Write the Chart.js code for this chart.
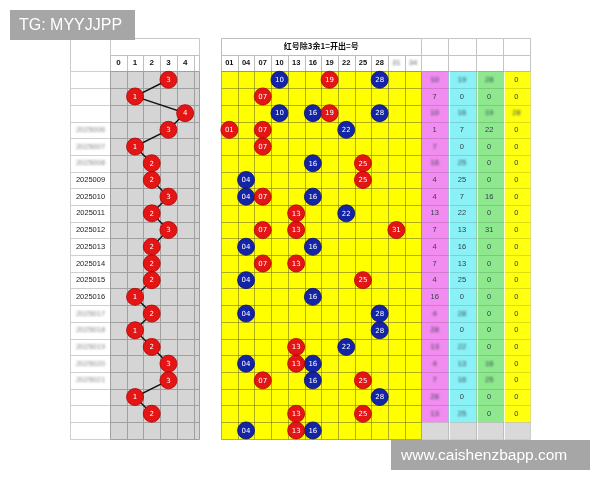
<!DOCTYPE html>
<html>
<head>
<meta charset="utf-8">
<script src="https://cdn.jsdelivr.net/npm/chart.js@4.4.1/dist/chart.umd.min.js"></script>
<style>
  html, body { margin: 0; background: #fff; }
  #wrap { width: 600px; height: 480px; }
</style>
</head>
<body>
<div id="wrap"><canvas id="chart" width="600" height="480"></canvas></div>
<script>
// ---------- data ----------
const rowLabels = ["", "", "", "2025006", "2025007", "2025008", "2025009", "2025010", "2025011",
  "2025012", "2025013", "2025014", "2025015", "2025016", "2025017", "2025018", "2025019",
  "2025020", "2025021", "", "", ""];
const zoneHeads = ["0", "1", "2", "3", "4"];
const zoneValues = [3, 1, 4, 3, 1, 2, 2, 3, 2, 3, 2, 2, 2, 1, 2, 1, 2, 3, 3, 1, 2, null];

const numTitle = "红号除3余1=开出=号";
const numHeads = ["01", "04", "07", "10", "13", "16", "19", "22", "25", "28", "31", "34"];
const redDraws = [[19], [7], [19], [1, 7], [7], [25], [25], [7], [13], [7, 13, 31], [], [7, 13],
  [25], [], [], [], [13], [13], [7, 25], [], [13, 25], [13]];
const blueDraws = [[10, 28], [], [10, 16, 28], [22], [], [16], [4], [4, 16], [22], [], [4, 16], [],
  [4], [16], [4, 28], [28], [22], [4, 16], [16], [28], [], [4, 16]];

const firstNum  = [10, 7, 10, 1, 7, 16, 4, 4, 13, 7, 4, 7, 4, 16, 4, 28, 13, 4, 7, 28, 13, null];
const secondNum = [19, 0, 16, 7, 0, 25, 25, 7, 22, 13, 16, 13, 25, 0, 28, 0, 22, 13, 16, 0, 25, null];
const thirdNum  = [28, 0, 19, 22, 0, 0, 0, 16, 0, 31, 0, 0, 0, 0, 0, 0, 0, 16, 25, 0, 0, null];
const fourthNum = [0, 0, 28, 0, 0, 0, 0, 0, 0, 0, 0, 0, 0, 0, 0, 0, 0, 0, 0, 0, 0, null];

// ---------- layout ----------
const W = 600, H = 480;
const ROWS = rowLabels.length;
const CELL = 16.7;            // row height / grid cell width
const TOP = 38;               // top of the title row
const LABEL_W = 40;
const L_LEFT = 110, M_LEFT = 221, R_LEFT = 421, R_CELL = 27.25;
const fadedLabelRows = [4, 5, 6, 15, 16, 17, 18, 19];
const fuzzyRows = [1, 3, 5, 6, 15, 16, 17, 18, 19, 20, 21];
const rightCols = [
  { values: firstNum, fill: "#f28cf0" },
  { values: secondNum, fill: "#8af2f6" },
  { values: thirdNum, fill: "#8ee98e" },
  { values: fourthNum, fill: "#ffff10" },
];

const xRange = (left, cell) => {
  const min = -0.5 - left / cell;
  return { min, max: min + W / cell };
};
const yMin = -1.5 - TOP / CELL;

const numCol = (n) => (n - 1) / 3;

const RED = "#e31515", BLUE = "#1424a6";

// ---------- helpers ----------
function grid(ctx, xs, ys, fill, stroke) {
  const x0 = xs[0], x1 = xs[xs.length - 1], y0 = ys[0], y1 = ys[ys.length - 1];
  if (fill) {
    ctx.fillStyle = fill;
    ctx.fillRect(x0, y0, x1 - x0, y1 - y0);
  }
  ctx.strokeStyle = stroke;
  ctx.beginPath();
  xs.forEach((x) => { ctx.moveTo(x, y0); ctx.lineTo(x, y1); });
  ys.forEach((y) => { ctx.moveTo(x0, y); ctx.lineTo(x1, y); });
  ctx.stroke();
}

function text(ctx, s, x, y, font, color, fuzzy) {
  ctx.font = font;
  ctx.fillStyle = color;
  ctx.textAlign = "center";
  ctx.textBaseline = "middle";
  if (fuzzy) ctx.filter = "blur(1.1px)";
  ctx.fillText(s, x, y);
  ctx.filter = "none";
}

const tablePlugin = {
  id: "table",
  beforeDatasetsDraw(chart) {
    const { ctx } = chart;
    const { xL, xM, xR, y } = chart.scales;
    const px = (s, v) => Math.round(s.getPixelForValue(v)) + 0.5;
    const yTitle = px(y, -1.5), yHead = px(y, -0.5), yBody = px(y, 0.5), yEnd = px(y, ROWS + 0.5);
    const rowEdges = [];
    for (let r = 0; r <= ROWS; r++) rowEdges.push(px(y, r + 0.5));
    ctx.save();
    ctx.lineWidth = 1;

    // left: period labels
    const lx1 = px(xL, -0.5), lx0 = lx1 - LABEL_W;
    grid(ctx, [lx0, lx1], [yTitle, yBody], "#fff", "#c8c8c8");
    grid(ctx, [lx0, lx1], rowEdges, "#fff", "#cfcfcf");
    rowLabels.forEach((s, i) => {
      if (!s) return;
      const faded = fadedLabelRows.includes(i + 1);
      text(ctx, s, (lx0 + lx1) / 2, y.getPixelForValue(i + 1), "7.5px 'Liberation Sans'",
        faded ? "#888" : "#222", faded);
    });

    // left: zone grid
    const lxs = zoneHeads.map((_, c) => px(xL, c - 0.5));
    lxs.push(px(xL, zoneHeads.length - 0.5));
    const lxsWide = lxs.concat([lxs[lxs.length - 1] + 5]);
    grid(ctx, [lxs[0], lxsWide[lxsWide.length - 1]], [yTitle, yHead], "#fff", "#c8c8c8");
    grid(ctx, lxsWide, [yHead, yBody], "#fff", "#c0c0c0");
    grid(ctx, lxsWide, rowEdges, "#d5d5d5", "#a0a0a0");
    zoneHeads.forEach((s, c) => text(ctx, s, xL.getPixelForValue(c), y.getPixelForValue(0),
      "bold 8px 'Liberation Sans'", "#111"));

    // middle: number grid
    const mxs = numHeads.map((_, c) => px(xM, c - 0.5));
    mxs.push(px(xM, numHeads.length - 0.5));
    grid(ctx, [mxs[0], mxs[mxs.length - 1]], [yTitle, yHead], "#fff", "#bdbdbd");
    grid(ctx, mxs, [yHead, yBody], "#fff", "#bdbdbd");
    grid(ctx, mxs, rowEdges, "#ffff00", "rgba(110,110,40,0.55)");
    text(ctx, numTitle, xM.getPixelForValue((numHeads.length - 1) / 2), y.getPixelForValue(-1),
      "bold 8px 'Noto Sans CJK SC'", "#111");
    numHeads.forEach((s, c) => {
      const fuzzy = c >= 10;
      text(ctx, s, xM.getPixelForValue(c), y.getPixelForValue(0), "bold 7.5px 'Liberation Sans'",
        fuzzy ? "#999" : "#111", fuzzy);
    });

    // right: sorted numbers
    const rxs = rightCols.map((_, c) => px(xR, c - 0.5));
    rxs.push(px(xR, rightCols.length - 0.5));
    grid(ctx, rxs, [yTitle, yHead, yBody], "#fff", "#c4c4c4");
    rightCols.forEach((col, c) => {
      const x0 = rxs[c], x1 = rxs[c + 1];
      ctx.fillStyle = col.fill;
      ctx.fillRect(x0, yBody, x1 - x0, rowEdges[ROWS - 1] - yBody);
    });
    ctx.fillStyle = "#d9d9d9";
    ctx.fillRect(rxs[0], rowEdges[ROWS - 1], rxs[rxs.length - 1] - rxs[0], yEnd - rowEdges[ROWS - 1]);
    grid(ctx, rxs, rowEdges, null, "rgba(0,0,0,0.13)");
    ctx.strokeStyle = "rgba(255,255,255,0.8)";
    ctx.beginPath();
    rxs.slice(1, -1).forEach((x) => { ctx.moveTo(x + 1, yBody); ctx.lineTo(x + 1, yEnd); });
    ctx.stroke();
    rightCols.forEach((col, c) => {
      col.values.forEach((v, i) => {
        if (v == null) return;
        const fuzzy = v !== 0 && fuzzyRows.includes(i + 1);
        text(ctx, String(v), xR.getPixelForValue(c), y.getPixelForValue(i + 1),
          "7.5px 'Liberation Sans'", "#2f3f48", fuzzy);
      });
    });
    ctx.restore();
  },
  afterDatasetsDraw(chart) {
    const { ctx } = chart;
    chart.data.datasets.forEach((ds, i) => {
      chart.getDatasetMeta(i).data.forEach((pt, j) => {
        text(ctx, ds.data[j].t, pt.x, pt.y + 0.5, "7px 'DejaVu Sans'", "#fff");
      });
    });
  },
  afterDraw(chart) {
    const { ctx } = chart;
    ctx.save();
    ctx.fillStyle = "#a6a6a6";
    ctx.fillRect(10, 10, 125, 30);
    ctx.fillRect(391, 440, 199, 30);
    ctx.fillStyle = "#fff";
    ctx.textBaseline = "middle";
    ctx.textAlign = "left";
    ctx.font = "16px 'Liberation Sans'";
    ctx.fillText("TG: MYYJJPP", 19, 25.5);
    ctx.font = "15.5px 'Liberation Sans'";
    ctx.fillText("www.caishenzbapp.com", 401, 455.5);
    ctx.restore();
  },
};

// ---------- datasets ----------
const zonePoints = zoneValues
  .map((v, i) => (v == null ? null : { x: v, y: i + 1, t: zoneHeads[v] }))
  .filter(Boolean);

const drawPoints = (draws) =>
  draws.flatMap((nums, i) => nums.map((n) => ({ x: numCol(n), y: i + 1, t: String(n).padStart(2, "0") })));

const ball = (color, edge) => ({
  pointRadius: 8.5,
  pointHoverRadius: 8.5,
  pointBackgroundColor: color,
  pointBorderColor: edge,
  pointBorderWidth: 0.8,
});

new Chart(document.getElementById("chart"), {
  type: "scatter",
  data: {
    datasets: [
      {
        data: zonePoints,
        xAxisID: "xL",
        showLine: true,
        borderColor: "#111",
        borderWidth: 1.4,
        ...ball(RED, "#b00000"),
      },
      { data: drawPoints(redDraws), xAxisID: "xM", ...ball(RED, "#b00000") },
      { data: drawPoints(blueDraws), xAxisID: "xM", ...ball(BLUE, "#0a1068") },
    ],
  },
  options: {
    responsive: false,
    animation: false,
    events: [],
    layout: { padding: 0, autoPadding: false },
    plugins: { legend: { display: false }, tooltip: { enabled: false } },
    scales: {
      xL: { type: "linear", display: false, ...xRange(L_LEFT, CELL) },
      xM: { type: "linear", display: false, ...xRange(M_LEFT, CELL) },
      xR: { type: "linear", display: false, ...xRange(R_LEFT, R_CELL) },
      y: { type: "linear", display: false, reverse: true, min: yMin, max: yMin + H / CELL },
    },
  },
  plugins: [tablePlugin],
});
</script>
</body>
</html>
